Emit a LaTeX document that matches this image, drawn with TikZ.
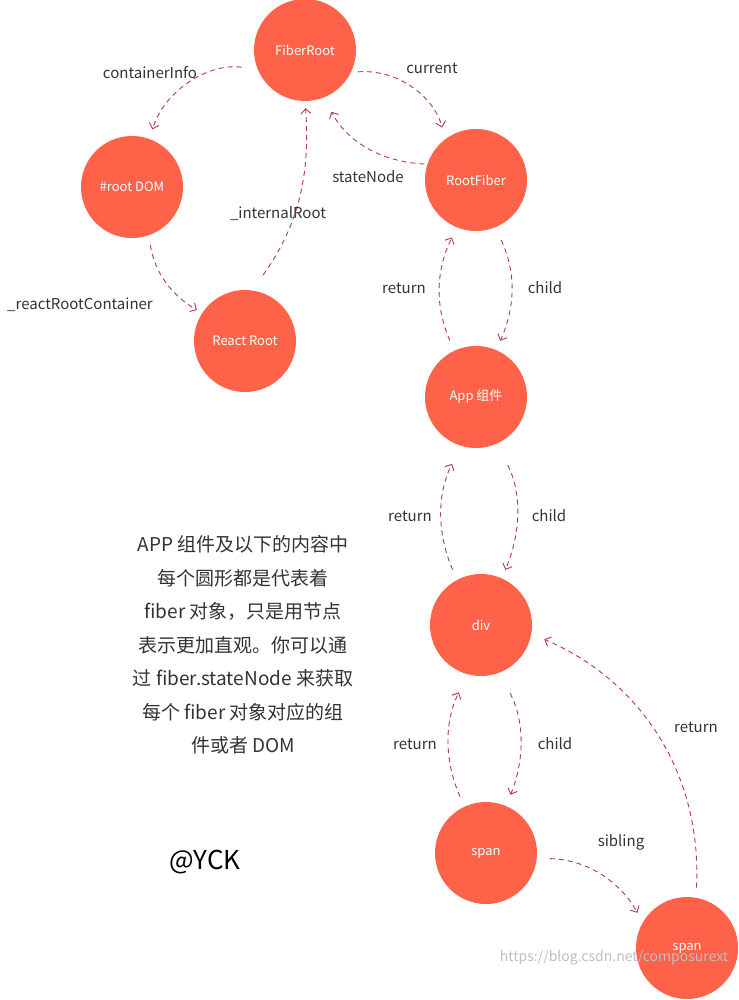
\documentclass[tikz,border=0pt]{standalone}
\usepackage{fontspec}
\setmainfont{Noto Sans CJK SC}
\usetikzlibrary{arrows.meta}
\definecolor{fibred}{HTML}{FE634A}
\definecolor{linkred}{HTML}{B23A48}
\definecolor{labgray}{HTML}{333333}
\newcommand{\fibnode}[4]{\node[fib] (#1) at ( #2 , #3 ) {#4};}
\newcommand{\lablink}[4]{\node[lab] (#1) at ( #2 , #3 ) {#4};}
\tikzset{
  fib/.style={circle, fill=fibred, text=white, minimum size=102pt, inner sep=0pt, font=\fontsize{13}{15}\selectfont},
  lab/.style={text=labgray, inner sep=0pt, font=\fontsize{15}{18}\selectfont},
  link/.style={draw=linkred, line width=0.9pt, dash pattern=on 5pt off 4pt, -{Straight Barb[length=5pt,width=10pt]}}
}

\begin{document}
\begin{tikzpicture}[x=1pt, y=-1pt]
        \useasboundingbox (0,0) rectangle (738,1000);

        % circles
        \fibnode{fr}{305}{50}{FiberRoot}
        \fibnode{dom}{132}{187}{\#root DOM}
        \fibnode{rf}{476}{180}{RootFiber}
        \fibnode{rr}{245}{341}{React Root}
        \fibnode{app}{476}{397}{App 组件}
        \fibnode{div}{481}{625}{div}
        \fibnode{spanA}{486}{853}{span}
        \fibnode{spanB}{687}{948}{span}

        % links
        \draw[link, shorten <=16pt, shorten >=10pt] (fr.202) to[bend right=40] (dom.70);
        \draw[link, shorten <=7pt, shorten >=12pt] (fr.334) to[bend left=40] (rf.127);
        \draw[link, shorten <=3pt, shorten >=16pt] (rf.162) to[bend left=30] (fr.292);
        \draw[link, shorten <=10pt, shorten >=6pt] (dom.289) to[bend right=25] (rr.147);
        \draw[link, shorten <=19pt, shorten >=7pt] (rr.82) to[bend right=20] (fr.270);

        \draw[link, shorten <=11pt, shorten >=11pt] (app.115) to[bend left=25] (rf.248);
        \draw[link, shorten <=14pt, shorten >=10pt] (rf.292) to[bend left=25] (app.67);
        \draw[link, shorten <=11pt, shorten >=20pt] (div.118) to[bend left=25] (app.253);
        \draw[link, shorten <=24pt, shorten >=9pt] (app.294) to[bend left=25] (div.66);
        \draw[link, shorten <=11pt, shorten >=20pt] (spanA.115) to[bend left=25] (div.255);
        \draw[link, shorten <=23pt, shorten >=12pt] (div.291) to[bend left=25] (spanA.67);
        \draw[link, shorten <=13pt, shorten >=11pt] (spanA.354) to[bend left=30] (spanB.150);
        \draw[link, shorten <=10pt, shorten >=14pt] (spanB.80) to[bend right=35] (div.350);

        % labels
        \lablink{lcont}{150}{73}{containerInfo}
        \lablink{lcur}{432}{68}{current}
        \lablink{lstate}{368}{177}{stateNode}
        \lablink{lreact}{80}{305}{\_reactRootContainer}
        \lablink{lint}{278}{214}{\_internalRoot}
        \lablink{lretA}{404}{288}{return}
        \lablink{lchA}{545}{288}{child}
        \lablink{lretB}{410}{516}{return}
        \lablink{lchB}{549}{516}{child}
        \lablink{lretC}{415}{744}{return}
        \lablink{lchC}{555}{744}{child}
        \lablink{lsib}{621}{842}{sibling}
        \lablink{lretD}{696}{727}{return}

        % note
        \node[text=labgray, align=center, inner sep=0pt, font=\fontsize{19}{33.5}\selectfont] (note) at (243,645)
          {APP 组件及以下的内容中\\每个圆形都是代表着\\fiber 对象，只是用节点\\表示更加直观。你可以通\\过 fiber.stateNode 来获取\\每个 fiber 对象对应的组\\件或者 DOM};
        \node[inner sep=0pt, font=\fontsize{26}{30}\selectfont] (sign) at (205,862) {@YCK};
        \node[text=black!25, inner sep=0pt, font=\fontsize{14}{16}\selectfont] (mark) at (614,958) {https://blog.csdn.net/composurext};
\end{tikzpicture}
\end{document}
